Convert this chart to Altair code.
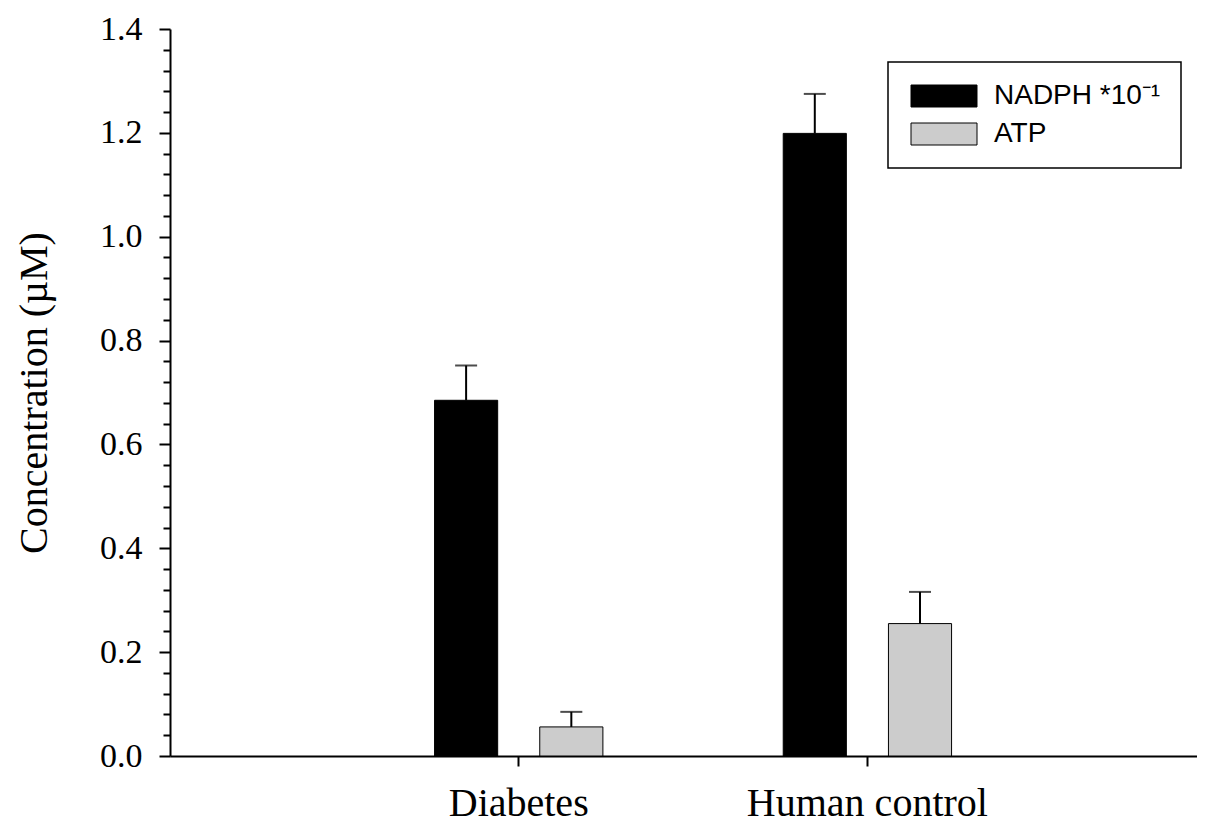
import altair as alt
import pandas as pd

GROUPS = ["Diabetes", "Human control"]
SERIES = ["NADPH *10\u207b\u00b9", "ATP"]
NADPH = [0.685, 1.199]
NADPH_ERR = [0.067, 0.076]
ATP = [0.056, 0.255]
ATP_ERR = [0.029, 0.061]
COLORS = ["#000000", "#cccccc"]
Y_TICKS = [round(i * 0.04, 2) for i in range(36)]

rows = []
for g, v, e in zip(GROUPS, NADPH, NADPH_ERR):
    rows.append({"group": g, "series": SERIES[0], "value": v, "upper": v + e})
for g, v, e in zip(GROUPS, ATP, ATP_ERR):
    rows.append({"group": g, "series": SERIES[1], "value": v, "upper": v + e})
df = pd.DataFrame(rows)

is_major = "abs(datum.value*5 - round(datum.value*5)) < 0.001"

x_enc = alt.X(
    "group:N",
    sort=GROUPS,
    scale=alt.Scale(paddingInner=0, paddingOuter=0.4727, align=0.529),
    axis=alt.Axis(
        title=None,
        labelFont="Liberation Serif",
        labelFontSize=40,
        labelColor="black",
        labelAngle=0,
        labelPadding=17,
        labelLimit=600,
        tickSize=10,
        tickWidth=2,
        tickColor="black",
        domainWidth=2,
        domainColor="black",
        grid=False,
    ),
)
xoff = alt.XOffset("series:N", sort=SERIES,
                   scale=alt.Scale(paddingInner=0.4, paddingOuter=0.857))

y_scale = alt.Scale(domain=[0, 1.4], nice=False)
y_enc = alt.Y(
    "value:Q",
    scale=y_scale,
    axis=alt.Axis(
        title="Concentration (\u00b5M)",
        titleFont="Liberation Serif",
        titleFontSize=40,
        titleFontWeight="normal",
        titleColor="black",
        titlePadding=45,
        values=Y_TICKS,
        tickCount=100,
        labelExpr=f"({is_major}) ? format(datum.value, '.1f') : ''",
        labelOverlap=False,
        labelFont="Liberation Serif",
        labelFontSize=34,
        labelColor="black",
        labelPadding=17,
        tickSize={"condition": {"test": is_major, "value": 11}, "value": 7},
        tickWidth=2,
        tickColor="black",
        domainWidth=2,
        domainColor="black",
        grid=False,
    ),
)

color = alt.Color(
    "series:N",
    sort=SERIES,
    scale=alt.Scale(domain=SERIES, range=COLORS),
    legend=alt.Legend(
        title=None,
        orient="none",
        legendX=718,
        legendY=33,
        symbolType="M-1,-1H5V1H-1Z",
        symbolSize=484,
        symbolStrokeColor="black",
        symbolStrokeWidth=1,
        symbolOpacity=1,
        labelFont="Liberation Sans",
        labelFontSize=28,
        labelColor="black",
        labelOffset=58,
        rowPadding=10,
        padding=20,
        strokeColor="black",
        fillColor="white",
        labelLimit=400,
    ),
)

bars = alt.Chart(df).mark_bar(stroke="black", strokeWidth=1, opacity=1).encode(
    x=x_enc, xOffset=xoff, y=y_enc, color=color
)

err = alt.Chart(df).mark_rule(color="black", strokeWidth=2).encode(
    x=alt.X("group:N", sort=GROUPS), xOffset=xoff,
    y=alt.Y("value:Q", scale=y_scale), y2="upper:Q"
)
cap = alt.Chart(df).mark_tick(color="black", thickness=2, size=22).encode(
    x=alt.X("group:N", sort=GROUPS), xOffset=xoff,
    y=alt.Y("upper:Q", scale=y_scale)
)

chart = alt.layer(bars, err, cap).properties(
    width=1189,
    height=815,
    autosize=alt.AutoSizeParams(type="fit", contains="padding"),
    padding={"left": 6, "top": 4, "right": 0, "bottom": 0},
).configure_view(stroke=None).configure_legend(strokeWidth=1.5)

chart.save("out.html", embed_options={"renderer": "svg", "actions": False})
